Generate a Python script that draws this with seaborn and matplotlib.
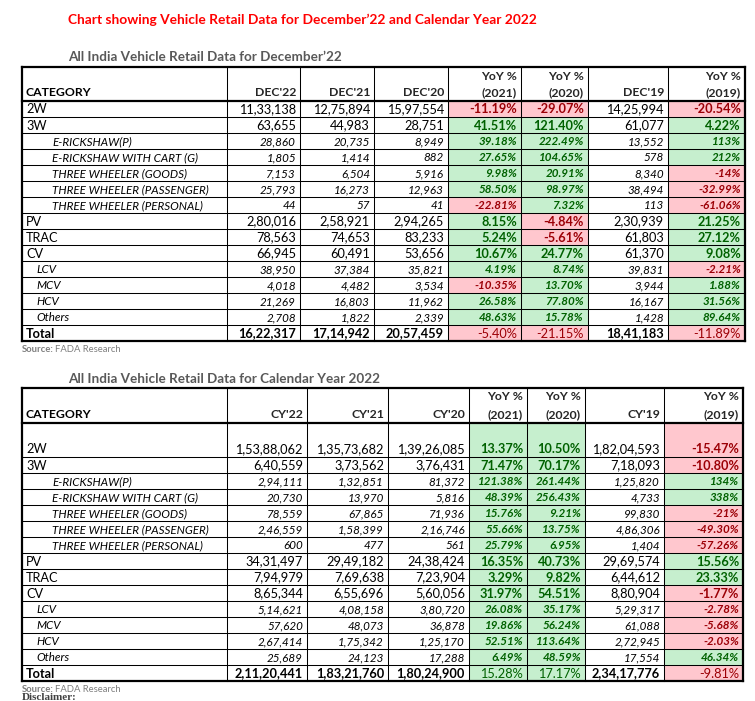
import numpy as np
import matplotlib
matplotlib.use("Agg")
import matplotlib.pyplot as plt
from matplotlib.colors import ListedColormap
import seaborn as sns

# ---------------- data ----------------
categories = ["2W", "3W", "E-RICKSHAW(P)", "E-RICKSHAW WITH CART (G)", "THREE WHEELER (GOODS)",
              "THREE WHEELER (PASSENGER)", "THREE WHEELER (PERSONAL)", "PV", "TRAC", "CV",
              "LCV", "MCV", "HCV", "Others", "Total"]
levels = [0, 0, 2, 2, 2, 2, 2, 0, 0, 0, 1, 1, 1, 1, 3]  # 0 main, 1/2 sub (indent), 3 total

dec_headers = ["CATEGORY", "DEC'22", "DEC'21", "DEC'20", "YoY %\n(2021)", "YoY %\n(2020)", "DEC'19", "YoY %\n(2019)"]
dec22 = [1133138, 63655, 28860, 1805, 7153, 25793, 44, 280016, 78563, 66945, 38950, 4018, 21269, 2708, 1622317]
dec21 = [1275894, 44983, 20735, 1414, 6504, 16273, 57, 258921, 74653, 60491, 37384, 4482, 16803, 1822, 1714942]
dec20 = [1597554, 28751, 8949, 882, 5916, 12963, 41, 294265, 83233, 53656, 35821, 3534, 11962, 2339, 2057459]
dec_yoy21 = ["-11.19%", "41.51%", "39.18%", "27.65%", "9.98%", "58.50%", "-22.81%", "8.15%", "5.24%",
             "10.67%", "4.19%", "-10.35%", "26.58%", "48.63%", "-5.40%"]
dec_yoy20 = ["-29.07%", "121.40%", "222.49%", "104.65%", "20.91%", "98.97%", "7.32%", "-4.84%", "-5.61%",
             "24.77%", "8.74%", "13.70%", "77.80%", "15.78%", "-21.15%"]
dec19 = [1425994, 61077, 13552, 578, 8340, 38494, 113, 230939, 61803, 61370, 39831, 3944, 16167, 1428, 1841183]
dec_yoy19 = ["-20.54%", "4.22%", "113%", "212%", "-14%", "-32.99%", "-61.06%", "21.25%", "27.12%",
             "9.08%", "-2.21%", "1.88%", "31.56%", "89.64%", "-11.89%"]

cy_headers = ["CATEGORY", "CY'22", "CY'21", "CY'20", "YoY %\n(2021)", "YoY %\n(2020)", "CY'19", "YoY %\n(2019)"]
cy22 = [15388062, 640559, 294111, 20730, 78559, 246559, 600, 3431497, 794979, 865344, 514621, 57620, 267414, 25689, 21120441]
cy21 = [13573682, 373562, 132851, 13970, 67865, 158399, 477, 2949182, 769638, 655696, 408158, 48073, 175342, 24123, 18321760]
cy20 = [13926085, 376431, 81372, 5816, 71936, 216746, 561, 2438424, 723904, 560056, 380720, 36878, 125170, 17288, 18024900]
cy_yoy21 = ["13.37%", "71.47%", "121.38%", "48.39%", "15.76%", "55.66%", "25.79%", "16.35%", "3.29%",
            "31.97%", "26.08%", "19.86%", "52.51%", "6.49%", "15.28%"]
cy_yoy20 = ["10.50%", "70.17%", "261.44%", "256.43%", "9.21%", "13.75%", "6.95%", "40.73%", "9.82%",
            "54.51%", "35.17%", "56.24%", "113.64%", "48.59%", "17.17%"]
cy19 = [18204593, 718093, 125820, 4733, 99830, 486306, 1404, 2969574, 644612, 880904, 529317, 61088, 272945, 17554, 23417776]
cy_yoy19 = ["-15.47%", "-10.80%", "134%", "338%", "-21%", "-49.30%", "-57.26%", "15.56%", "23.33%",
            "-1.77%", "-2.78%", "-5.68%", "-2.03%", "46.34%", "-9.81%"]

title = "Chart showing Vehicle Retail Data for December\u201922 and Calendar Year 2022"
sub1 = "All India Vehicle Retail Data for December\u201922"
sub2 = "All India Vehicle Retail Data for Calendar Year 2022"

# ---------------- style ----------------
sns.set_theme(style="white")
FONT = ["Lato", "DejaVu Sans"]
plt.rcParams["font.family"] = FONT

W, H = 755, 701
fig = plt.figure(figsize=(W / 100, H / 100), dpi=100)
fig.patch.set_facecolor("white")
ov = fig.add_axes([0, 0, 1, 1], zorder=5)
ov.set_xlim(0, W)
ov.set_ylim(H, 0)
ov.axis("off")
ov.patch.set_alpha(0)

GREEN_FILL, RED_FILL = "#C6EFCE", "#FFC7CE"
GREEN_TXT, RED_TXT = "#006100", "#9C0006"
cmap = ListedColormap(["white", GREEN_FILL, RED_FILL])


def inr(n):
    s = str(n)
    if len(s) <= 3:
        return s
    last, rest = s[-3:], s[:-3]
    groups = []
    while len(rest) > 2:
        groups.insert(0, rest[-2:])
        rest = rest[:-2]
    if rest:
        groups.insert(0, rest)
    return ",".join(groups) + "," + last


def draw_table(edges, top, header_h, first_h, row_h, headers, cols, yoy_idx, header_two_line_y):
    nrows = len(categories)
    heights = [header_h, first_h] + [row_h] * (nrows - 1)
    widths = np.diff(edges)
    status = np.zeros((nrows + 1, len(edges) - 1), dtype=int)
    for j, col in enumerate(cols, start=1):
        if j in yoy_idx:
            for i, v in enumerate(col):
                status[i + 1, j] = 2 if v.strip().startswith("-") else 1
    big = np.repeat(np.repeat(status, heights, axis=0), widths, axis=1)
    bottom = top + sum(heights)
    hax = fig.add_axes([edges[0] / W, 1 - bottom / H, (edges[-1] - edges[0]) / W, (bottom - top) / H], zorder=1)
    sns.heatmap(big, ax=hax, cmap=cmap, vmin=-0.5, vmax=2.5, cbar=False,
                xticklabels=False, yticklabels=False, linewidths=0, rasterized=True)
    hax.axis("off")

    ybounds = np.concatenate([[top], top + np.cumsum(heights)])
    for k, y in enumerate(ybounds):
        lw = 1.6 if k in (0, 1, len(ybounds) - 1) else 0.75
        ov.plot([edges[0], edges[-1]], [y, y], color="black", lw=lw, solid_capstyle="projecting")
    for k, x in enumerate(edges):
        lw = 1.6 if k in (0, len(edges) - 1) else 0.75
        ov.plot([x, x], [top, bottom], color="black", lw=lw, solid_capstyle="projecting")

    hy2 = ybounds[1] - 8
    for j, h in enumerate(headers):
        if j == 0:
            ov.text(edges[0] + 4, hy2, h, ha="left", va="center", fontsize=8.8, fontweight="bold", color="black")
        else:
            parts = h.split("\n")
            xr = edges[j + 1] - 4
            if len(parts) == 2:
                ov.text(xr, header_two_line_y, parts[0], ha="right", va="center", fontsize=8.8, fontweight="bold")
                ov.text(xr, hy2, parts[1], ha="right", va="center", fontsize=8.8, fontweight="bold")
            else:
                ov.text(xr, hy2, parts[0], ha="right", va="center", fontsize=8.8, fontweight="bold")

    for i, cat in enumerate(categories):
        lvl = levels[i]
        r0, r1 = ybounds[i + 1], ybounds[i + 2]
        yc = r1 - 7.6 if i == 0 else (r0 + r1) / 2 + 0.5
        style = "italic" if lvl in (1, 2) else "normal"
        fs = 8.4 if lvl in (1, 2) else 9.2
        weight = "bold" if lvl == 3 else "normal"
        indent = {0: 4, 1: 14, 2: 30, 3: 4}[lvl]
        ov.text(edges[0] + indent, yc, cat, ha="left", va="center", fontsize=fs,
                fontstyle=style, fontweight=weight, color="black")
        for j, col in enumerate(cols, start=1):
            xr = edges[j + 1] - 4
            v = col[i]
            if j in yoy_idx:
                neg = v.strip().startswith("-")
                w = "normal" if lvl == 3 else "bold"
                ov.text(xr, yc, v, ha="right", va="center", fontsize=fs, fontstyle=style,
                        fontweight=w, color=RED_TXT if neg else GREEN_TXT)
            else:
                ov.text(xr, yc, inr(v), ha="right", va="center", fontsize=fs, fontstyle=style,
                        fontweight=weight, color="black")
    return bottom


ov.text(68, 20, title, ha="left", va="center", fontsize=9.9, fontweight="bold", color="#FF0000")
ov.text(68, 57, sub1, ha="left", va="center", fontsize=9.7, fontweight="bold", color="#595959")
ov.text(68, 379, sub2, ha="left", va="center", fontsize=9.7, fontweight="bold", color="#595959")

edges1 = [22, 227, 300, 374, 448, 521, 588, 668, 745]
b1 = draw_table(edges1, 67, 34, 16, 16, dec_headers,
                [dec22, dec21, dec20, dec_yoy21, dec_yoy20, dec19, dec_yoy19], {4, 5, 7}, 77)

edges2 = [22, 227, 307, 388, 469, 527, 585, 664, 743]
b2 = draw_table(edges2, 388, 35, 34, 16, cy_headers,
                [cy22, cy21, cy20, cy_yoy21, cy_yoy20, cy19, cy_yoy19], {4, 5, 7}, 397)

for yb in (b1 + 9, b2 + 8):
    ov.text(22, yb, "Source:", ha="left", va="center", fontsize=6.8, fontweight="bold", color="#7F7F7F")
    ov.text(55, yb, "FADA Research", ha="left", va="center", fontsize=6.8, color="#7F7F7F")

ov.text(22, 693, "Disclaimer:", ha="left", va="top", fontsize=8, fontweight="bold",
        family=["Liberation Serif", "DejaVu Serif"], color="#404040")

fig.savefig("out.png", dpi=100, facecolor="white")
